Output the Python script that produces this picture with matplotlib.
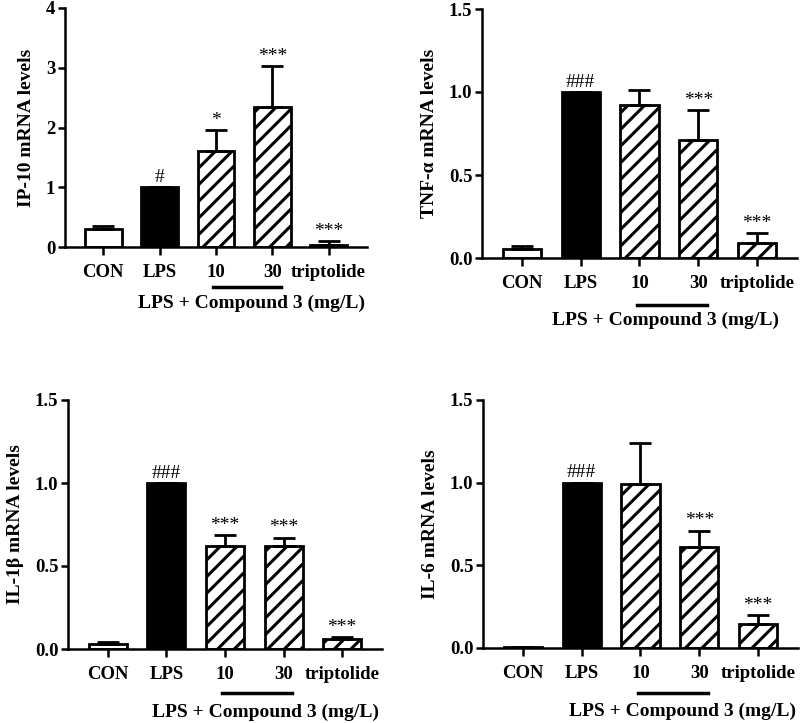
import numpy as np
import matplotlib
matplotlib.use('Agg')
import matplotlib.pyplot as plt

plt.rcParams['font.family'] = ['Liberation Serif', 'DejaVu Serif']
plt.rcParams['hatch.linewidth'] = 2.2

# groups on the x axis
groups = ['CON', 'LPS', '10', '30', 'triptolide']

# mean values and upper SD for each panel
ip10_mean = [0.30, 1.00, 1.60, 2.35, 0.03]
ip10_err = [0.05, 0.0, 0.35, 0.68, 0.07]
ip10_marks = ['', '#', '*', '***', '***']

tnf_mean = [0.055, 1.00, 0.92, 0.71, 0.09]
tnf_err = [0.015, 0.0, 0.09, 0.18, 0.06]
tnf_marks = ['', '###', '', '***', '***']

il1b_mean = [0.03, 1.00, 0.62, 0.62, 0.06]
il1b_err = [0.01, 0.0, 0.065, 0.05, 0.01]
il1b_marks = ['', '###', '***', '***', '***']

il6_mean = [0.005, 1.00, 0.99, 0.61, 0.145]
il6_err = [0.0, 0.0, 0.25, 0.10, 0.055]
il6_marks = ['', '###', '', '***', '***']

W, H = 803, 723
fig = plt.figure(figsize=(W / 100, H / 100), dpi=100)


def px_axes(left, right, top, bottom):
    return fig.add_axes([left / W, 1 - bottom / H, (right - left) / W, (bottom - top) / H])


def panel(ax, means, errs, marks, ylabel, ymax, yticks, fmt, text_x, line_off, text_off):
    x = np.arange(len(groups))
    styles = [('white', ''), ('black', ''), ('white', '//'), ('white', '//'), ('white', '//')]
    for xi, m, (fc, hatch) in zip(x, means, styles):
        ax.bar(xi, m, width=0.65, color=fc, edgecolor='black', linewidth=2.0,
               hatch=hatch, zorder=2)
    ax.errorbar(x, means, yerr=[np.zeros(len(x)), errs], fmt='none', ecolor='black',
                elinewidth=2.0, capsize=8, capthick=2.0, zorder=3)
    for xi, m, e, t in zip(x, means, errs, marks):
        if t:
            ax.annotate(t, (xi, m + e), xytext=(0, 1), textcoords='offset points',
                        ha='center', va='bottom', fontsize=14)
    ax.set_xlim(-0.68, 4.68)
    ax.set_ylim(0, ymax)
    ax.set_yticks(yticks)
    ax.set_yticklabels([fmt.format(v) for v in yticks])
    ax.set_xticks(x)
    ax.set_xticklabels(groups)
    for s in ['top', 'right']:
        ax.spines[s].set_visible(False)
    for s in ['left', 'bottom']:
        ax.spines[s].set_linewidth(1.8)
    ax.tick_params(axis='both', width=1.8, labelsize=13.5)
    ax.tick_params(axis='x', length=6, pad=6)
    ax.tick_params(axis='y', length=5, pad=2)
    for lab in ax.get_xticklabels() + ax.get_yticklabels():
        lab.set_fontweight('bold')
    ax.set_ylabel(ylabel, fontsize=14, fontweight='bold', labelpad=8)
    tr = ax.get_xaxis_transform()
    ax.plot([1.95, 3.15], [line_off, line_off], color='black', lw=2.5,
            transform=tr, clip_on=False)
    ax.text(text_x, text_off, 'LPS + Compound 3 (mg/L)', transform=tr, ha='center',
            va='center', fontsize=14, fontweight='bold')


ax1 = px_axes(65, 367, 8, 247)
panel(ax1, ip10_mean, ip10_err, ip10_marks, 'IP-10 mRNA levels', 4, [0, 1, 2, 3, 4],
      '{:.0f}', 2.63, -0.167, -0.234)

ax2 = px_axes(482, 797, 9, 258)
panel(ax2, tnf_mean, tnf_err, tnf_marks, 'TNF-\u03b1 mRNA levels', 1.5, [0, 0.5, 1.0, 1.5],
      '{:.1f}', 2.45, -0.19, -0.25)

ax3 = px_axes(68, 382, 400, 649)
panel(ax3, il1b_mean, il1b_err, il1b_marks, 'IL-1\u03b2 mRNA levels', 1.5, [0, 0.5, 1.0, 1.5],
      '{:.1f}', 2.69, -0.177, -0.253)

ax4 = px_axes(483, 798, 400, 648)
panel(ax4, il6_mean, il6_err, il6_marks, 'IL-6 mRNA levels', 1.5, [0, 0.5, 1.0, 1.5],
      '{:.1f}', 2.72, -0.18, -0.257)

fig.savefig('out.png', dpi=100)
